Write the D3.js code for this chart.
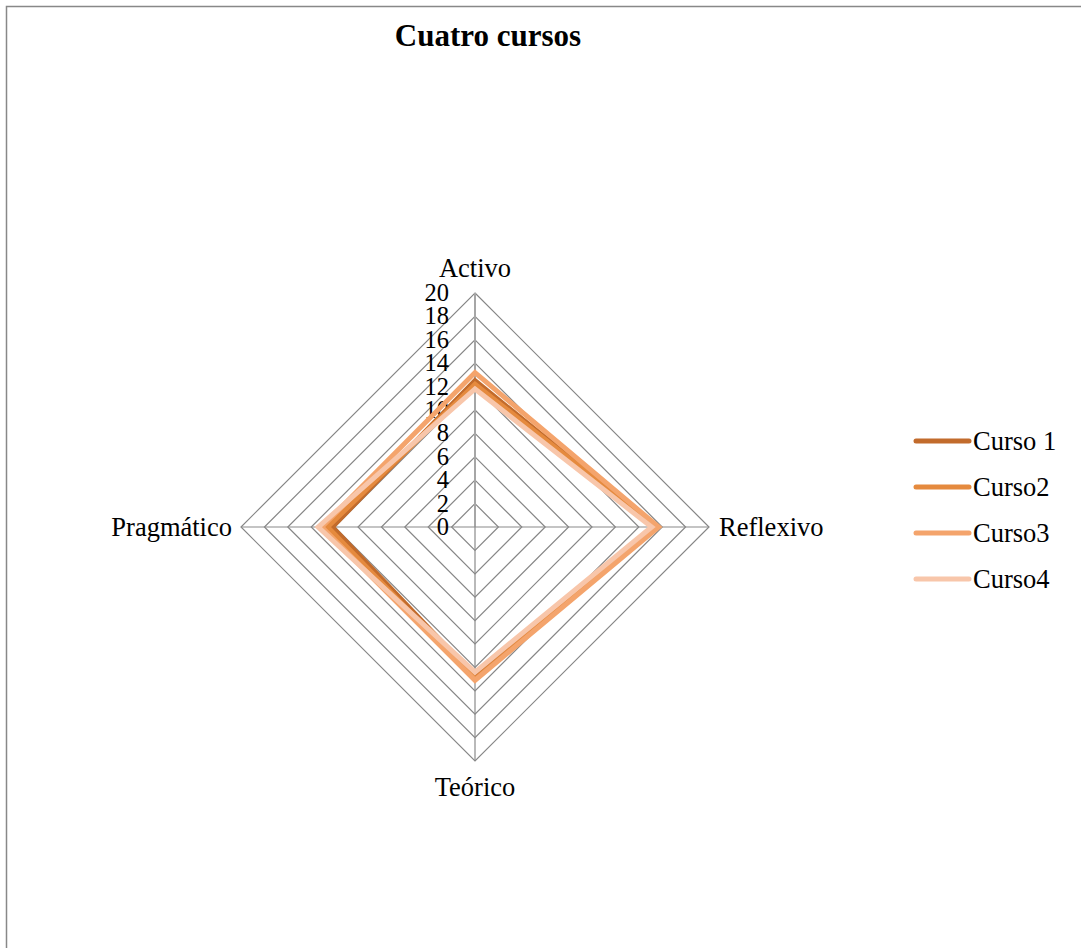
<!DOCTYPE html>
<html><head><meta charset="utf-8">
<script src="https://cdn.jsdelivr.net/npm/d3@7"></script>
<style>body{margin:0;background:#fff}svg{display:block}</style>
</head><body>
<svg id="c" width="1081" height="948" font-family="'Liberation Serif','Times New Roman','DejaVu Serif',serif"></svg>
<script>
const axesLabels = ["Activo","Reflexivo","Teórico","Pragmático"];
const seriesNames = ["Curso 1","Curso2","Curso3","Curso4"];
const curso1 = [12.5, 15.4, 12.8, 12.2];
const curso2 = [12.2, 15.5, 13.0, 12.6];
const curso3 = [13.2, 15.7, 13.1, 13.1];
const curso4 = [11.8, 15.1, 12.4, 13.4];
const tickValues = [0,2,4,6,8,10,12,14,16,18,20];
const colors = ["#C26B2C","#E58A3E","#F4A46C","#F8C6AA"];
const seriesData = [curso1, curso2, curso3, curso4];

const svg = d3.select("#c");
svg.append("rect").attr("x",6.5).attr("y",6.5).attr("width",1080).attr("height",950)
  .attr("fill","#fff").attr("stroke","#888").attr("stroke-width",1.5);

svg.append("text").attr("x",488).attr("y",46).attr("text-anchor","middle")
  .attr("font-size",31).attr("font-weight","bold").text("Cuatro cursos");

const cx = 475, cy = 527;
const r = d3.scaleLinear().domain([0,20]).range([0,234]);
const angle = i => -Math.PI/2 + i*Math.PI/2;
const pt = (i,v) => [cx + r(v)*Math.cos(angle(i)), cy + r(v)*Math.sin(angle(i))];

const g = svg.append("g");
// grid
tickValues.filter(t=>t>0).forEach(t=>{
  g.append("polygon").attr("points", axesLabels.map((a,i)=>pt(i,t).join(",")).join(" "))
   .attr("fill","none").attr("stroke","#868686").attr("stroke-width",1.2);
});
axesLabels.forEach((a,i)=>{
  const p = pt(i,20);
  g.append("line").attr("x1",cx).attr("y1",cy).attr("x2",p[0]).attr("y2",p[1])
   .attr("stroke", i===0?"#a6a6a6":"#8a8a8a").attr("stroke-width", i===0?2:1.2);
});
// ticks
tickValues.forEach(t=>{
  g.append("text").attr("x",449).attr("y",cy - r(t)).attr("dy","0.33em")
   .attr("text-anchor","end").attr("font-size",24.5).text(t);
});
// axis labels
const fs = 26.5;
g.append("text").attr("x",cx).attr("y",pt(0,20)[1]-16).attr("text-anchor","middle").attr("font-size",fs).text(axesLabels[0]);
g.append("text").attr("x",pt(1,20)[0]+10).attr("y",cy).attr("dy","0.33em").attr("text-anchor","start").attr("font-size",fs).text(axesLabels[1]);
g.append("text").attr("x",cx).attr("y",pt(2,20)[1]+35).attr("text-anchor","middle").attr("font-size",fs).text(axesLabels[2]);
g.append("text").attr("x",pt(3,20)[0]-9).attr("y",cy).attr("dy","0.33em").attr("text-anchor","end").attr("font-size",fs).text(axesLabels[3]);

// series
const line = d3.line().curve(d3.curveLinearClosed);
seriesData.forEach((s,k)=>{
  g.append("path").attr("d", line(s.map((v,i)=>pt(i,v))))
   .attr("fill","none").attr("stroke",colors[k]).attr("stroke-width",5)
   .attr("stroke-linejoin","miter");
});

// legend
seriesNames.forEach((n,k)=>{
  const y = 441 + k*46;
  svg.append("line").attr("x1",916).attr("x2",969).attr("y1",y).attr("y2",y)
    .attr("stroke",colors[k]).attr("stroke-width",5).attr("stroke-linecap","round");
  svg.append("text").attr("x",973).attr("y",y).attr("dy","0.33em").attr("font-size",fs).text(n);
});
</script>
</body></html>
